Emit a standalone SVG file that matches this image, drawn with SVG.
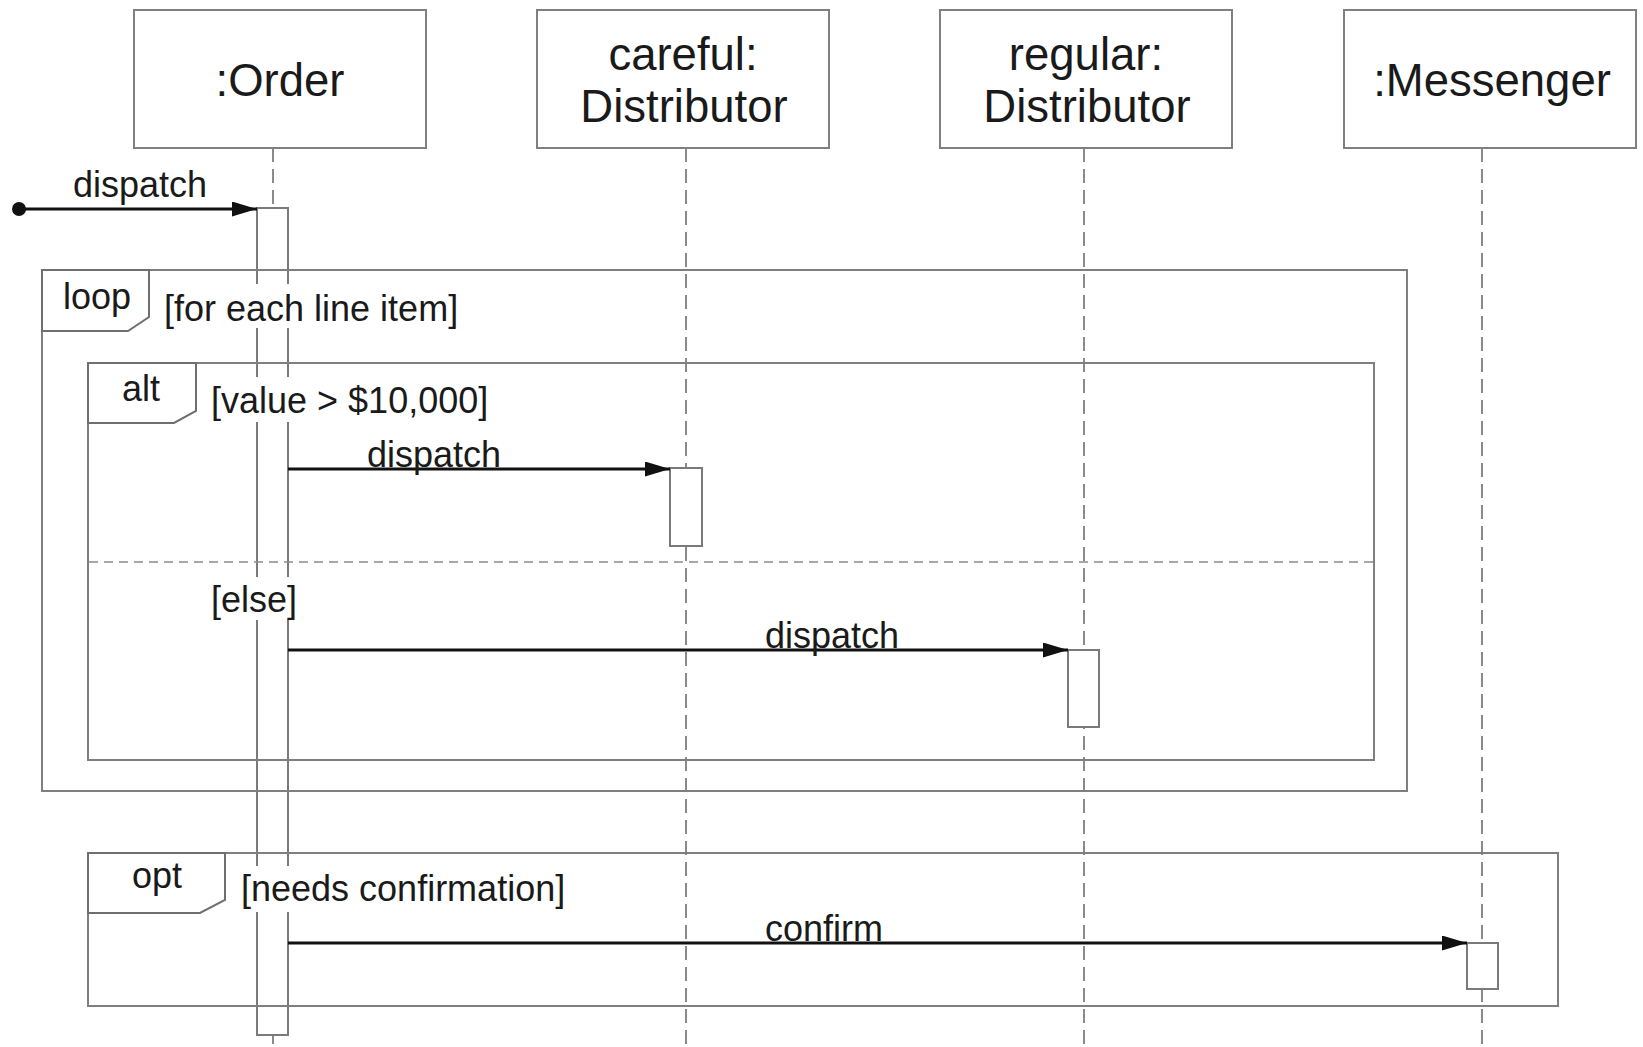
<svg xmlns="http://www.w3.org/2000/svg" width="1643" height="1047" viewBox="0 0 1643 1047">
<style>
.box{fill:#fff;stroke:#808080;stroke-width:2}
.life{stroke:#8a8a8a;stroke-width:2;stroke-dasharray:14,7;fill:none}
.bar{fill:#fff;stroke:#7a7a7a;stroke-width:2}
.frame{fill:none;stroke:#7f7f7f;stroke-width:2}
.tab{fill:#fff;stroke:#6f6f6f;stroke-width:2}
.sep{stroke:#8a8a8a;stroke-width:1.5;stroke-dasharray:9,6;fill:none}
.msg{stroke:#111;stroke-width:3;fill:none}
.head{font-family:"Liberation Sans",Arial,sans-serif;font-size:45.5px;fill:#1a1a1a;text-anchor:middle}
.lbl{font-family:"Liberation Sans",Arial,sans-serif;font-size:36px;fill:#1a1a1a}
.bg{fill:#fff}
</style>
<defs>
<marker id="arr" markerUnits="userSpaceOnUse" markerWidth="26" markerHeight="16" refX="25" refY="7.5" orient="auto">
<path d="M0,0 L25,7.5 L0,15 Z" fill="#111"/>
</marker>
</defs>

<g id="lifelines">
<line class="life" x1="273" y1="148" x2="273" y2="1047"/>
<line class="life" x1="686" y1="148" x2="686" y2="1047"/>
<line class="life" x1="1084" y1="148" x2="1084" y2="1047"/>
<line class="life" x1="1482" y1="148" x2="1482" y2="1047"/>
</g>

<g id="order">
<rect class="box" x="134" y="10" width="292" height="138"/>
<text class="head" x="280" y="96">:Order</text>
</g>
<g id="careful">
<rect class="box" x="537" y="10" width="292" height="138"/>
<text class="head" x="683" y="70">careful:</text>
<text class="head" x="684" y="122">Distributor</text>
</g>
<g id="regular">
<rect class="box" x="940" y="10" width="292" height="138"/>
<text class="head" x="1086" y="70">regular:</text>
<text class="head" x="1087" y="122">Distributor</text>
</g>
<g id="messenger">
<rect class="box" x="1344" y="10" width="292" height="138"/>
<text class="head" x="1492" y="96">:Messenger</text>
</g>

<g id="activations">
<rect class="bar" x="257" y="208" width="31" height="827"/>
<rect class="bar" x="670" y="468" width="32" height="78"/>
<rect class="bar" x="1068" y="650" width="31" height="77"/>
<rect class="bar" x="1467" y="943" width="31" height="46"/>
</g>

<g id="loop">
<rect class="frame" x="42" y="270" width="1365" height="521"/>
<path class="tab" d="M42,270 L149,270 L149,317 L128,331 L42,331 Z"/>
<text class="lbl" x="63" y="309">loop</text>
<rect class="bg" x="160" y="284" width="302" height="44"/>
<text class="lbl" x="164" y="321">[for each line item]</text>
</g>

<g id="alt">
<rect class="frame" x="88" y="363" width="1286" height="397"/>
<path class="tab" d="M88,363 L196,363 L196,411 L174,423 L88,423 Z"/>
<text class="lbl" x="122" y="401">alt</text>
<rect class="bg" x="208" y="377" width="285" height="45"/>
<text class="lbl" x="211" y="413">[value &gt; $10,000]</text>
<line class="sep" x1="89" y1="562" x2="1373" y2="562"/>
<rect class="bg" x="208" y="577" width="94" height="43"/>
<text class="lbl" x="211" y="612">[else]</text>
</g>

<g id="opt">
<rect class="frame" x="88" y="853" width="1470" height="153"/>
<path class="tab" d="M88,853 L225,853 L225,900 L200,913 L88,913 Z"/>
<text class="lbl" x="132" y="888">opt</text>
<rect class="bg" x="238" y="866" width="330" height="46"/>
<text class="lbl" x="241" y="901">[needs confirmation]</text>
</g>

<g id="connectors">
<circle cx="19" cy="209" r="7" fill="#111"/>
<line class="msg" x1="19" y1="209" x2="257" y2="209" marker-end="url(#arr)"/>
<text class="lbl" x="73" y="197">dispatch</text>
<line class="msg" x1="288" y1="469" x2="670" y2="469" marker-end="url(#arr)"/>
<text class="lbl" x="367" y="467">dispatch</text>
<line class="msg" x1="288" y1="650" x2="1068" y2="650" marker-end="url(#arr)"/>
<text class="lbl" x="765" y="648">dispatch</text>
<line class="msg" x1="288" y1="943" x2="1467" y2="943" marker-end="url(#arr)"/>
<text class="lbl" x="765" y="941">confirm</text>
</g>
</svg>
